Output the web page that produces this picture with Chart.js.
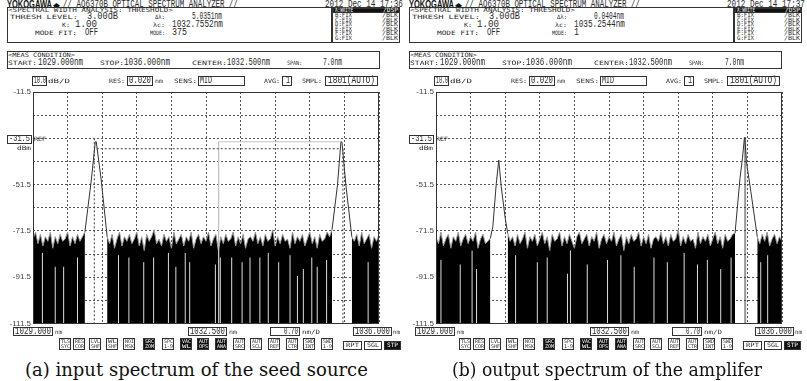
<!DOCTYPE html>
<html><head><meta charset="utf-8">
<script src="https://cdn.jsdelivr.net/npm/chart.js@4/dist/chart.umd.min.js"></script>
<style>
html,body{margin:0;padding:0;background:#fff;}
#wrap{position:relative;width:807px;height:381px;overflow:hidden;background:#fff;}
.t{position:absolute;white-space:nowrap;transform-origin:0 50%;color:#2a2a2a;}
.s{font-family:"DejaVu Sans Mono",monospace;}
.v{font-family:"Liberation Mono",monospace;}
.b{font-family:"Liberation Sans",sans-serif;font-weight:bold;}
.cap{font-family:"DejaVu Serif",serif;color:#111;}
.bx{position:absolute;border:1px solid #333;box-sizing:border-box;}
canvas{position:absolute;}
</style></head>
<body><div id="wrap"></div>
<script>
// axis ranges / ticks
const xMin=1029, xMax=1036;
const xGrid=[1029,1029.7,1030.4,1031.1,1031.8,1032.5,1033.2,1033.9,1034.6,1035.3,1036];
const yMin=-111.5, yMax=-11.5;
const yGrid=[-111.5,-101.5,-91.5,-81.5,-71.5,-61.5,-51.5,-41.5,-31.5,-21.5,-11.5];
const yLabels=[-11.5,-51.5,-71.5,-91.5,-111.5];

// noise floor, sampled every 0.05 nm from 1029.00 (null = hidden under a peak)
const noiseStart=1029, noiseStep=0.05;
const noiseA=[
 -75,-72,-77,-73,-78,-74,-76,-72,-79,-74,-77,-73,-76,-75,-72,-78,-74,-77,-73,-76,-74,-72,
 null,null,null,null,null,null,null,null,
 -74,-77,-73,-79,-75,-72,-78,-74,-76,-73,
 -77,-75,-72,-78,-74,-80,-73,-76,-74,-71,
 -77,-75,-78,-73,-76,-74,-79,-72,-77,-75,
 -73,-78,-74,-76,-72,-79,-75,-73,-77,-74,
 -76,-72,-78,-75,-73,-80,-74,-77,-73,-76,
 -75,-72,-78,-74,-77,-73,-79,-75,-74,-76,
 -72,-77,-74,-78,-73,-76,-75,-71,-78,-74,
 -77,-73,-76,-75,-79,-72,-77,-74,-76,-73,
 -78,-75,-72,-77,-74,-79,-73,-76,-75,-72,
 -74,-71,
 null,null,null,null,null,null,null,
 -74,-76,-73,-78,-72,-77,-75,-73,-79,-74,-76,-73
];
const noiseB=[
 -74,-77,-72,-78,-75,-73,-79,-74,-76,-72,-78,-75,-73,-77,-74,-76,-72,-79,-75,-73,-77,-76,-74.6,
 null,null,null,null,null,null,
 -72.4,-76,-74,-78,-73,-77,-75,-72,-79,-74,
 -76,-73,-78,-75,-72,-77,-74,-80,-73,-76,
 -75,-72,-78,-74,-77,-73,-76,-79,-74,-72,
 -77,-75,-73,-78,-74,-76,-72,-79,-75,-73,
 -77,-74,-76,-72,-78,-75,-73,-80,-74,-77,
 -73,-76,-75,-72,-78,-74,-77,-73,-79,-75,
 -74,-76,-72,-77,-74,-78,-73,-76,-75,-71,
 -78,-74,-77,-73,-76,-75,-79,-72,-77,-74,
 -76,-73,-78,-75,-72,-77,-74,-79,-73,-76,
 -75,-73,-72.5,
 null,null,null,null,null,null,null,null,
 -74,-77,-73,-76,-72,-78,-75,-73,-77,-74,-76
];

// light dropouts inside the noise floor
const dropXA=[1029.19,1029.45,1029.62,1029.90,1030.73,1030.94,1031.24,1031.44,1031.74,1031.89,1032.08,1032.17,1032.69,1032.79,1033.02,1033.23,1033.39,1033.59,1033.76,1033.97,1034.20,1034.35,1034.47,1034.64,1034.75,1034.94,1035.78];
const dropTopA=[-81,-87,-87,-83,-82,-83,-85,-83,-81,-87,-81,-85,-86,-83,-83,-85,-83,-83,-81,-85,-82,-91,-88,-83,-87,-84,-85];
const dropXB=[1029.10,1029.49,1029.73,1029.82,1030.61,1031.05,1031.25,1031.66,1031.72,1032.06,1032.47,1032.74,1033.01,1033.41,1033.68,1034.02,1034.29,1034.49,1034.76,1034.97,1035.57,1035.71];
const dropTopB=[-84,-86,-80,-88,-82,-85,-83,-90,-80,-86,-84,-82,-87,-83,-85,-81,-86,-84,-88,-83,-85,-82];

// peaks [nm, dBm]
const peakA1=[[1030.05,-72],[1030.18,-49.5],[1030.26,-33],[1030.28,-33],[1030.38,-49.5],[1030.50,-74]];
const peakA2=[[1035.05,-71],[1035.16,-51.7],[1035.23,-33],[1035.25,-33],[1035.33,-51.7],[1035.45,-74]];
const peakB1=[[1030.10,-74.6],[1030.15,-69.7],[1030.22,-50.9],[1030.27,-40.9],[1030.32,-52.4],[1030.40,-66],[1030.45,-72.4]];
const peakB2=[[1035.05,-72.5],[1035.15,-48.8],[1035.20,-40.1],[1035.24,-31.2],[1035.25,-31.5],[1035.28,-41.6],[1035.37,-54.6],[1035.50,-74]];

// analysis markers
const threshA=[[1030.29,-36],[1035.21,-36]];
const markA1=[[1030.24,-31.5],[1030.24,-111.5]];
const markA2=[[1035.27,-36],[1035.27,-111.5]];
const centerA=[[1035.24,-33],[1032.7552,-33],[1032.7552,-111.5]];
const markB=[[1035.2544,-31.2],[1035.2544,-111.5]];

const wrap=document.getElementById('wrap');
Chart.defaults.font.family='"Liberation Sans", sans-serif';

const pts=a=>a.map(([x,y])=>({x,y}));
const noisePts=v=>v.map((y,i)=>({x:Math.round((noiseStart+i*noiseStep)*1000)/1000,y}));
function drops(xs,tops){
  const d=[];
  xs.forEach((x,i)=>{ d.push({x,y:yMin},{x,y:tops[i]},{x,y:null}); });
  return d;
}

const frame={id:'frame',afterDatasetsDraw(ch){
  const {ctx,chartArea:a}=ch;
  ctx.save(); ctx.strokeStyle='#333'; ctx.lineWidth=1;
  ctx.strokeRect(Math.round(a.left)+.5,Math.round(a.top)+.5,Math.round(a.right-a.left)-1,Math.round(a.bottom-a.top)-1);
  ctx.restore();
}};

function spectrum(left,noise,dx,dt,peaks,marks){
  const c=document.createElement('canvas');
  c.width=400; c.height=246;
  c.style.left=left+'px'; c.style.top='85px';
  wrap.appendChild(c);
  const ds=[];
  marks.forEach(m=>ds.push({data:pts(m.p),borderColor:m.c,borderWidth:m.w,borderDash:m.dash,fill:false}));
  peaks.forEach(p=>ds.push({data:pts(p),borderColor:'#333',borderWidth:1,fill:false}));
  ds.push({data:drops(dx,dt),borderColor:'#dcdcdc',borderWidth:1,fill:false,spanGaps:false});
  ds.push({data:noisePts(noise),borderColor:'#9a9a9a',borderWidth:1,backgroundColor:'#000',fill:'start',spanGaps:false});
  new Chart(c,{
    type:'line',
    data:{datasets:ds},
    options:{
      responsive:false,animation:false,events:[],
      layout:{padding:{top:7,right:21,bottom:7.5,left:0}},
      plugins:{legend:{display:false},tooltip:{enabled:false}},
      elements:{point:{radius:0,hitRadius:0},line:{tension:0}},
      scales:{
        x:{type:'linear',min:xMin,max:xMax,
          afterBuildTicks:s=>{s.ticks=xGrid.map(v=>({value:v}));},
          afterFit:s=>{s.height=0;},
          ticks:{display:false},
          grid:{color:'#555',drawTicks:false},
          border:{display:false,dash:[2,2]}},
        y:{type:'linear',min:yMin,max:yMax,
          afterBuildTicks:s=>{s.ticks=yGrid.map(v=>({value:v}));},
          afterFit:s=>{s.width=33;},
          ticks:{color:'#444',font:{size:8},padding:2,autoSkip:false,
            callback:v=>yLabels.includes(v)?String(v):''},
          grid:{color:'#555',drawTicks:false},
          border:{display:false,dash:[2,2]}}
      }
    },
    plugins:[frame]
  });
}

function fit(x1,x2,yc,str,size,kind,color){
  const el=document.createElement('div');
  el.className='t '+(kind||'s');
  el.textContent=str;
  el.style.fontSize=size+'px';
  el.style.height=size+'px';
  el.style.lineHeight=size+'px';
  el.style.left=x1+'px';
  el.style.top=(yc-size/2)+'px';
  if(color) el.style.color=color;
  wrap.appendChild(el);
  const w=el.getBoundingClientRect().width;
  el.style.transform='scaleX('+((x2-x1)/w).toFixed(3)+')';
}
function box(x,y,w,h,fill,bw){
  const el=document.createElement('div');
  el.className='bx';
  Object.assign(el.style,{left:x+'px',top:y+'px',width:w+'px',height:h+'px',
    background:fill||'transparent',borderWidth:(bw||1)+'px'});
  wrap.appendChild(el);
}

const buttons=[['TLS','SYC',0],['RES','COR',0],['LVL','SHF',0],['WL','SHF',0],['NOI','MSK',0],['SRC','ZOM',1],['SPC','1-9',0],['VAC','WL',1],
  ['AUT','OPS',1],['AUT','ANA',1],['AUT','SRC',0],['AUT','SCL',0],['AUT','REF',0],['AUT','CTR',0],['SWD','INT',0],['SWD','1-9',0]];
const buttonX=[59,73,89,106,123,143,162,180,197,215,233,250,268,286,303,321];
const traces=['B','C','D','E','F','G'];
const traceY=[15,19.5,24,28.5,33,37.5];

function panel(P){
  const d=P.dx, bd=P.bdx;
  const T=(x1,x2,yc,s,sz,k,c)=>fit(x1+d,x2+d,yc,s,sz,k,c);
  const B=(x,y,w,h,f,bw)=>box(x+d,y,w,h,f,bw);
  // title line
  T(7,52,5,'YOKOGAWA',10,'b','#111');
  T(53,60,5,'\u25C6',9,'s','#111');
  T(63,238,5,'// AQ6370B OPTICAL SPECTRUM ANALYZER //',10,'v');
  T(325,403,5,P.date,10,'v');
  // analysis box
  B(7,7,325,36);
  T(8,173,10,'<SPECTRAL WIDTH ANALYSIS: THRESHOLD>',6,'s');
  T(10,78,17,'THRESH LEVEL:',6,'s'); T(87,118,16.5,'3.00dB',11,'v');
  T(155,165,17,'\u0394\u03BB:',6,'s'); T(192,222,16.5,P.dl,11,'v');
  T(62,70,25,'K:',6,'s'); T(75,97,24.5,'1.00',11,'v');
  T(153,165,25,'\u03BBc:',6,'s'); T(172,223,24.5,P.lc,11,'v');
  T(35,77,33,'MODE FIT:',6,'s'); T(85,98,32.5,'OFF',11,'v');
  T(150,165,33,'MODE:',6,'s'); T(172,172+5*P.mode.length,32.5,P.mode,11,'v');
  // trace list
  B(332,7,68,36);
  B(333,8,66,4.5,'#111',0);
  T(335,353,10.2,'A:WRITE',6,'s','#fff'); T(383,398,10.2,'/DSP',6,'s','#fff');
  traces.forEach((t,i)=>{ T(335,352,traceY[i],t+':FIX',6,'s'); T(382,398,traceY[i],'/BLK',6,'s'); });
  // measurement condition
  B(7,50.5,373,18);
  T(8,75,54.5,'<MEAS CONDITION>',6,'s');
  T(8,37,63,'START:',6,'s'); T(38,83,62.5,'1029.000nm',11,'v');
  T(100,124,63,'STOP:',6,'s'); T(124,170,62.5,'1036.000nm',11,'v');
  T(192,227,63,'CENTER:',6,'s'); T(227,270,62.5,'1032.500nm',11,'v');
  T(287,302,63,'SPAN:',6,'s'); T(323,342,62.5,'7.0nm',11,'v');
  // settings row
  B(32,75.5,15,10,null,1.5); T(34,46,80.5,'10.0',10,'v'); T(48,70,81,'dB/D',6,'s');
  T(109,125,81,'RES:',6,'s'); B(127,75.5,26,10,null,1.5); T(129,151,80.5,'0.020',10,'v'); T(155,163,81,'nm',6,'s');
  T(174,197,81,'SENS:',6,'s'); B(198,75.5,47,10); T(200,212,80.5,'MID',10,'v');
  T(264,280,81,'AVG:',6,'s'); B(282,75.5,10,10); T(286,290,80.5,'1',10,'v');
  T(302,322,81,'SMPL:',6,'s'); B(325,75.5,53,10); T(328,375,80.5,'1801(AUTO)',10,'v');
  // REF marker
  B(7,135,25,9); T(9,30,139.5,'-31.5',9,'v'); T(34,46,139,'REF',6,'s'); T(17,31,147.5,'dBm',6,'s');
  // bottom scale boxes
  B(13,327,40,9,null,1.5); T(15,51,331.5,'1029.000',10,'v'); T(55,62,332,'nm',6,'s');
  B(188,327,39,9,null,1.5); T(190,225,331.5,'1032.500',10,'v'); T(229,237,332,'nm',6,'s');
  B(270,327,30,9); T(284,298,331.5,'0.70',10,'v'); T(302,320,332,'nm/D',6,'s');
  B(353,327,39,9,null,1.5); T(355,390,331.5,'1036.000',10,'v'); T(393,400,332,'nm',6,'s');
  // soft keys
  buttons.forEach(([a,b,inv],i)=>{
    const x=buttonX[i]+bd;
    box(x,338,12,12,inv?'#111':null);
    const c=inv?'#fff':'#333';
    fit(x+1.5,x+10.5,341.5,a,5,'s',c);
    fit(x+1.5,x+10.5,346.8,b,5,'s',c);
  });
  box(343+bd,340.5,19,9); fit(346+bd,359+bd,345,'RPT',6,'s');
  box(364+bd,340.5,18,9); fit(367+bd,379+bd,345,'SGL',6,'s');
  box(384+bd,340.5,17,9,'#111'); fit(387+bd,398+bd,345,'STP',6,'s','#fff');
}

spectrum(0,noiseA,dropXA,dropTopA,[peakA1,peakA2],[
  {p:threshA,c:'#444',w:1,dash:[2,2]},
  {p:markA1,c:'#444',w:1,dash:[2,2]},
  {p:markA2,c:'#444',w:1,dash:[2,2]},
  {p:centerA,c:'#c4c4c4',w:1,dash:[]}
]);
spectrum(403,noiseB,dropXB,dropTopB,[peakB1,peakB2],[
  {p:markB,c:'#333',w:2,dash:[1,1]}
]);

panel({dx:0,bdx:0,date:'2012 Dec 14 17:36',dl:'5.0351nm',lc:'1032.7552nm',mode:'375'});
panel({dx:402,bdx:400,date:'2012 Dec 14 17:37',dl:'0.0404nm',lc:'1035.2544nm',mode:'1'});

fit(25,368,370,'(a) input spectrum of the seed source',18,'cap');
fit(452,762,370,'(b) output spectrum of the amplifer',18,'cap');
</script>
</body></html>
